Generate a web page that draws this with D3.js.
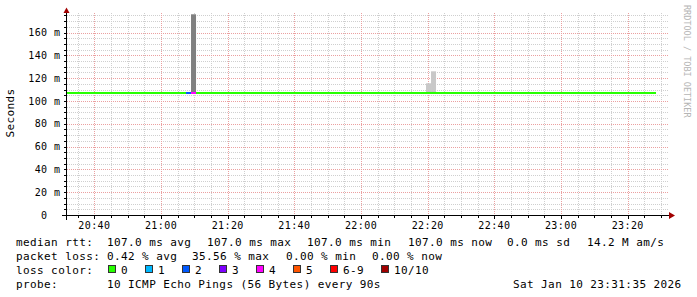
<!DOCTYPE html>
<html>
<head>
<meta charset="utf-8">
<script src="https://cdn.jsdelivr.net/npm/d3@7"></script>
<style>
  body { margin: 0; background: #fff; }
  svg { display: block; }
  text { font-family: "DejaVu Sans Mono", monospace; fill: #000; }
</style>
</head>
<body>
<div id="chart"></div>
<script>
// data
const timeStart = '20:31:35';
const timeEnd = '23:31:35';
const xTickLabels = ['20:40', '21:00', '21:20', '21:40', '22:00', '22:20', '22:40', '23:00', '23:20'];
const yTickValues = [0, 20, 40, 60, 80, 100, 120, 140, 160];
const medianMs = 107.0;
// median line pieces: [from, to, loss count]
const lossSegments = [
  ['20:31:35', '21:07:30', 0],
  ['21:07:30', '21:09:00', 2],
  ['21:09:00', '21:10:30', 4],
  ['21:10:30', '23:28:30', 0]
];
// smoke: [from, to, low ms, high ms, shade]
const smoke = [
  ['21:09:00', '21:10:30', 107.0, 180.0, 'dark'],
  ['22:19:30', '22:21:00', 107.0, 115.5, 'light'],
  ['22:21:00', '22:22:30', 107.0, 126.0, 'light']
];
const lossLabels = ['0', '1', '2', '3', '4', '5', '6-9', '10/10'];
const lossColors = ['#26ff00', '#00b8ff', '#0059ff', '#7e00ff', '#ff00ff', '#ff5500', '#ff0000', '#a10000'];
const statsRtt = ['107.0 ms avg', '107.0 ms max', '107.0 ms min', '107.0 ms now', '0.0 ms sd', '14.2 M am/s'];
const statsLoss = ['0.42 % avg', '35.56 % max', '0.00 % min', '0.00 % now'];
const probeText = '10 ICMP Echo Pings (56 Bytes) every 90s';
const stampText = 'Sat Jan 10 23:31:35 2026';

const W = 697, H = 297;
const parseT = d3.timeParse('%Y-%m-%d %H:%M:%S');
const t = (s) => parseT('2026-01-10 ' + (s.length === 5 ? s + ':00' : s));

const svg = d3.select('#chart').append('svg')
  .attr('width', W)
  .attr('height', H);

const xScale = d3.scaleTime()
  .domain([t(timeStart), t(timeEnd)])
  .range([66.3, 666.3]);

const yScale = d3.scaleLinear()
  .domain([0, 176])
  .range([215, 14.3]);

const lossColor = d3.scaleOrdinal()
  .domain([0, 1, 2, 3, 4, 5, 6, 10])
  .range(lossColors);

// grid
const grid = svg.append('g');
const minorTimes = d3.timeMinute.every(5).range(t('20:35'), t('23:32'));
const majorTimes = xTickLabels.map(t);
const isMajorT = (d) => d.getMinutes() % 20 === 0;

grid.selectAll('.vminor')
  .data(minorTimes.filter((d) => !isMajorT(d)))
  .enter()
  .append('line')
    .attr('x1', (d) => Math.round(xScale(d)) + 0.5)
    .attr('x2', (d) => Math.round(xScale(d)) + 0.5)
    .attr('y1', 13)
    .attr('y2', 215)
    .attr('stroke', '#cfcfcf')
    .attr('stroke-dasharray', '1,1');

const minorMs = d3.range(5, 176, 5).filter((d) => d % 20 !== 0);
grid.selectAll('.hminor')
  .data(minorMs)
  .enter()
  .append('line')
    .attr('x1', 67)
    .attr('x2', 668)
    .attr('y1', (d) => Math.round(yScale(d)) + 0.5)
    .attr('y2', (d) => Math.round(yScale(d)) + 0.5)
    .attr('stroke', '#cfcfcf')
    .attr('stroke-dasharray', '1,1');

grid.selectAll('.vmajor')
  .data(majorTimes)
  .enter()
  .append('line')
    .attr('x1', (d) => Math.round(xScale(d)) + 0.5)
    .attr('x2', (d) => Math.round(xScale(d)) + 0.5)
    .attr('y1', 13)
    .attr('y2', 215)
    .attr('stroke', '#eba0a0')
    .attr('stroke-dasharray', '1,1');

grid.selectAll('.hmajor')
  .data(yTickValues.filter((d) => d > 0))
  .enter()
  .append('line')
    .attr('x1', 67)
    .attr('x2', 668)
    .attr('y1', (d) => Math.round(yScale(d)) + 0.5)
    .attr('y2', (d) => Math.round(yScale(d)) + 0.5)
    .attr('stroke', '#eba0a0')
    .attr('stroke-dasharray', '1,1');

// smoke
svg.selectAll('.smoke')
  .data(smoke)
  .enter()
  .append('rect')
    .attr('x', (d) => xScale(t(d[0])))
    .attr('width', (d) => xScale(t(d[1])) - xScale(t(d[0])))
    .attr('y', (d) => Math.max(yScale(d[3]), 14.3))
    .attr('height', (d) => yScale(d[2]) - Math.max(yScale(d[3]), 14.3))
    .attr('fill', (d) => d[4] === 'dark' ? '#808080' : '#c8c8c8');

// median line coloured by loss
svg.selectAll('.median')
  .data(lossSegments)
  .enter()
  .append('rect')
    .attr('x', (d) => xScale(t(d[0])))
    .attr('width', (d) => xScale(t(d[1])) - xScale(t(d[0])))
    .attr('y', yScale(medianMs) - 1)
    .attr('height', 2)
    .attr('fill', (d) => lossColor(d[2]));

// axes
const axisColor = '#000';
svg.append('line')
  .attr('x1', 62).attr('x2', 670)
  .attr('y1', 215.5).attr('y2', 215.5)
  .attr('stroke', axisColor);
svg.append('line')
  .attr('x1', 66.5).attr('x2', 66.5)
  .attr('y1', 220).attr('y2', 12)
  .attr('stroke', axisColor);

svg.selectAll('.xtick')
  .data(minorTimes)
  .enter()
  .append('line')
    .attr('x1', (d) => Math.round(xScale(d)) + 0.5)
    .attr('x2', (d) => Math.round(xScale(d)) + 0.5)
    .attr('y1', 216)
    .attr('y2', (d) => isMajorT(d) ? 219 : 218)
    .attr('stroke', axisColor);

svg.selectAll('.ytick')
  .data(d3.range(5, 176, 5))
  .enter()
  .append('line')
    .attr('x1', 64)
    .attr('x2', 66)
    .attr('y1', (d) => Math.round(yScale(d)) + 0.5)
    .attr('y2', (d) => Math.round(yScale(d)) + 0.5)
    .attr('stroke', axisColor);

svg.append('path')
  .attr('d', 'M63.5,13 L66.5,7.5 L69.5,13 Z')
  .attr('fill', '#a10000');
svg.append('path')
  .attr('d', 'M669,212 L675,215.5 L669,219 Z')
  .attr('fill', '#a10000');

// tick labels
svg.append('g')
  .selectAll('text')
  .data(xTickLabels)
  .enter()
  .append('text')
    .attr('x', (d) => xScale(t(d)))
    .attr('y', 228.5)
    .attr('text-anchor', 'middle')
    .style('font-size', '10px')
    .style('letter-spacing', '0.4px')
    .text((d) => d);

const yLab = svg.append('g');
yLab.selectAll('.num')
  .data(yTickValues)
  .enter()
  .append('text')
    .attr('x', 47.5)
    .attr('y', (d) => yScale(d) + 3.6)
    .attr('text-anchor', 'end')
    .style('font-size', '10px')
    .style('letter-spacing', '0.4px')
    .text((d) => d);
yLab.selectAll('.unit')
  .data(yTickValues.filter((d) => d > 0))
  .enter()
  .append('text')
    .attr('x', 54)
    .attr('y', (d) => yScale(d) + 3.6)
    .style('font-size', '10px')
    .text('m');

svg.append('text')
  .attr('transform', 'translate(14,113) rotate(-90)')
  .attr('text-anchor', 'middle')
  .style('font-size', '11px')
  .style('letter-spacing', '0.4px')
  .text('Seconds');

svg.append('text')
  .attr('transform', 'translate(684,5) rotate(90)')
  .style('font-size', '8.5px')
  .style('fill', '#b5b5b5')
  .text('RRDTOOL / TOBI OETIKER');

// legend
const leg = svg.append('g')
  .style('font-size', '11px')
  .style('letter-spacing', '0.4px');

function put(str, x, y) {
  leg.append('text')
    .attr('x', x)
    .attr('y', y)
    .attr('xml:space', 'preserve')
    .text(str);
}

put('median rtt:', 16, 245.5);
[107, 207, 307, 408, 507, 587].forEach((x, i) => put(statsRtt[i], x, 245.5));

put('packet loss:', 16, 259.5);
[107, 192, 286, 372].forEach((x, i) => put(statsLoss[i], x, 259.5));

put('loss color:', 16, 273.5);
let bx = 108;
lossLabels.forEach((lab, i) => {
  leg.append('rect')
    .attr('x', bx + 0.5)
    .attr('y', 265.5)
    .attr('width', 7)
    .attr('height', 7)
    .attr('fill', lossColors[i])
    .attr('stroke', '#333')
    .attr('stroke-width', 1);
  put(lab, bx + 13, 273.5);
  bx = bx + 13 + lab.length * 7 + 17;
});

put('probe:', 16, 287.5);
put(probeText, 107, 287.5);
put(stampText, 513, 287.5);
</script>
</body>
</html>
